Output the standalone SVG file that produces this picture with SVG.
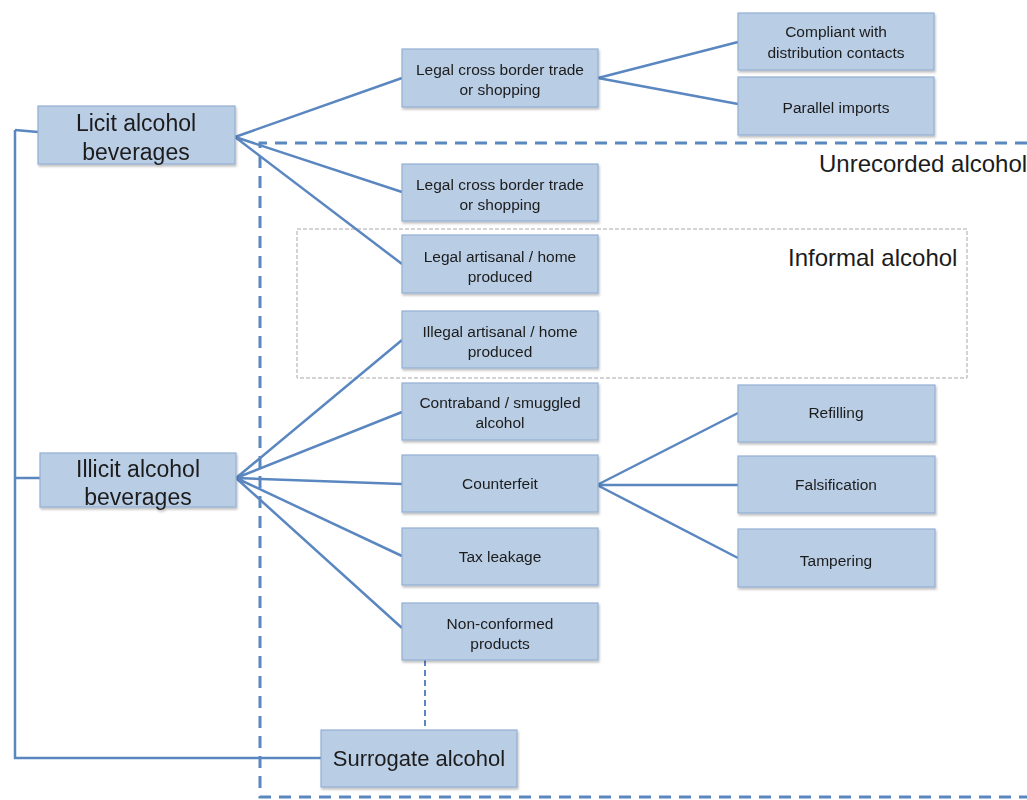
<svg xmlns="http://www.w3.org/2000/svg" width="1027" height="800" viewBox="0 0 1027 800">
<style>
.box{fill:#b9cde5;stroke:#93b0d4;stroke-width:1.2}
.t{font-family:"Liberation Sans",Arial,sans-serif;font-size:15.5px;fill:#1c1c1c;text-anchor:middle}
.tl{font-family:"Liberation Sans",Arial,sans-serif;font-size:23px;fill:#1c1c1c;text-anchor:middle}
.lbl{font-family:"Liberation Sans",Arial,sans-serif;font-size:24px;fill:#1c1c1c}
.c{stroke:#5b87c1;stroke-width:2.5;fill:none}
</style>
<defs>
<filter id="sh" x="-5%" y="-5%" width="115%" height="125%">
<feDropShadow dx="1" dy="2" stdDeviation="1.2" flood-color="#000" flood-opacity="0.25"/>
</filter>
</defs>
<rect width="1027" height="800" fill="#ffffff"/>
<g id="regions">
<path d="M1027 143 H260 V797 H1027" fill="none" stroke="#5b87c1" stroke-width="3" stroke-dasharray="12 8"/>
<rect x="297" y="229" width="670" height="149" fill="none" stroke="#a8a8a8" stroke-width="1" stroke-dasharray="4 2"/>
<text class="lbl" x="819" y="172">Unrecorded alcohol</text>
<text class="lbl" x="788" y="266">Informal alcohol</text>
</g>
<g id="connectors">
<path class="c" d="M15 130 V758 H321"/>
<path class="c" d="M15 130 L38 132"/>
<path class="c" d="M15 478 H40"/>
<path class="c" d="M235 137 L402 78 M235 137 L402 192 M235 137 L402 264"/>
<path class="c" d="M598 78 L738 42 M598 78 L738 104"/>
<path class="c" d="M236 478 L402 340 M236 478 L402 412 M236 478 L402 484 M236 478 L402 556 M236 478 L402 628"/>
<path class="c" d="M597 485 L738 413 M597 485 L738 485 M597 485 L738 558"/>
<path d="M425 660 V730" stroke="#5b87c1" stroke-width="2" stroke-dasharray="6 4" fill="none"/>
</g>
<g id="licit" filter="url(#sh)"><rect class="box" x="38" y="106" width="197" height="58"/><text class="tl" x="136" y="131">Licit alcohol</text><text class="tl" x="136" y="160">beverages</text></g>
<g id="illicit" filter="url(#sh)"><rect class="box" x="40" y="453" width="196" height="54"/><text class="tl" x="138" y="477">Illicit alcohol</text><text class="tl" x="138" y="505">beverages</text></g>
<g id="legal-cbt-1" filter="url(#sh)"><rect class="box" x="402" y="49" width="196" height="58"/><text class="t" x="500" y="75">Legal cross border trade</text><text class="t" x="500" y="95">or shopping</text></g>
<g id="compliant" filter="url(#sh)"><rect class="box" x="738" y="13" width="196" height="57"/><text class="t" x="836" y="37">Compliant with</text><text class="t" x="836" y="58">distribution contacts</text></g>
<g id="parallel" filter="url(#sh)"><rect class="box" x="738" y="77" width="196" height="58"/><text class="t" x="836" y="113">Parallel imports</text></g>
<g id="legal-cbt-2" filter="url(#sh)"><rect class="box" x="402" y="164" width="196" height="57"/><text class="t" x="500" y="190">Legal cross border trade</text><text class="t" x="500" y="210">or shopping</text></g>
<g id="legal-artisanal" filter="url(#sh)"><rect class="box" x="402" y="235" width="196" height="58"/><text class="t" x="500" y="262">Legal artisanal / home</text><text class="t" x="500" y="282">produced</text></g>
<g id="illegal-artisanal" filter="url(#sh)"><rect class="box" x="402" y="311" width="196" height="57"/><text class="t" x="500" y="337">Illegal artisanal / home</text><text class="t" x="500" y="357">produced</text></g>
<g id="contraband" filter="url(#sh)"><rect class="box" x="402" y="383" width="196" height="57"/><text class="t" x="500" y="408">Contraband / smuggled</text><text class="t" x="500" y="428">alcohol</text></g>
<g id="counterfeit" filter="url(#sh)"><rect class="box" x="402" y="455" width="196" height="57"/><text class="t" x="500" y="489">Counterfeit</text></g>
<g id="tax" filter="url(#sh)"><rect class="box" x="402" y="528" width="196" height="57"/><text class="t" x="500" y="562">Tax leakage</text></g>
<g id="nonconformed" filter="url(#sh)"><rect class="box" x="402" y="603" width="196" height="57"/><text class="t" x="500" y="629">Non-conformed</text><text class="t" x="500" y="649">products</text></g>
<g id="refilling" filter="url(#sh)"><rect class="box" x="738" y="385" width="197" height="57"/><text class="t" x="836" y="418">Refilling</text></g>
<g id="falsification" filter="url(#sh)"><rect class="box" x="738" y="456" width="197" height="57"/><text class="t" x="836" y="490">Falsification</text></g>
<g id="tampering" filter="url(#sh)"><rect class="box" x="738" y="529" width="197" height="58"/><text class="t" x="836" y="566">Tampering</text></g>
<g id="surrogate" filter="url(#sh)"><rect class="box" x="321" y="730" width="196" height="57"/><text class="tl" x="419" y="766" style="font-size:22px">Surrogate alcohol</text></g>
</svg>
